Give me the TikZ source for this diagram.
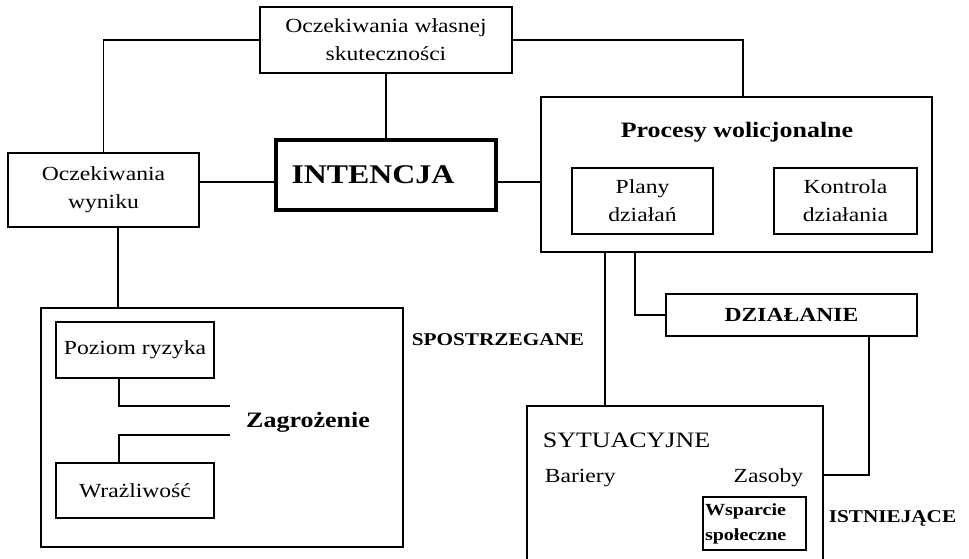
\documentclass[tikz,border=0pt]{standalone}
\usepackage{fontspec}
\setmainfont{Liberation Serif}[FakeStretch=1.18]
\newcommand\fsz[2]{\fontsize{#1}{#2}\selectfont}
\tikzset{
  every path/.style={line width=1.7pt},
  box/.style={draw, line width=1.7pt, inner sep=0pt, align=center, font=\fsz{20}{28}},
  thickbox/.style={box, line width=4pt},
  lbl/.style={inner sep=0pt, font=\fsz{20}{28}},
  boldlbl/.style={inner sep=0pt, font=\bfseries\fsz{20}{28}},
}
\begin{document}
\begin{tikzpicture}[x=1pt, y=-1pt]
\useasboundingbox (0,0) rectangle (969,559);

% boxes
\node[box, minimum width=252, minimum height=66] (ows) at (386,40) {Oczekiwania własnej\\skuteczności};
\node[box, minimum width=191, minimum height=74] (wyn) at (103.5,190) {Oczekiwania\\wyniku};
\node[thickbox, minimum width=220, minimum height=70, font=\bfseries\fsz{27}{30}] (int) at (386,175) {INTENCJA\hspace*{26pt}};
\node[box, minimum width=391, minimum height=155] (proc) at (736.5,174.5) {};
\node[boldlbl, font=\bfseries\fsz{22}{28}] (proct) at (737,132) {Procesy wolicjonalne};
\node[box, minimum width=141, minimum height=66] (plany) at (642.5,201) {Plany\\działań};
\node[box, minimum width=143, minimum height=66] (kontr) at (845.5,201) {Kontrola\\działania};
\node[box, minimum width=251, minimum height=42, font=\bfseries\fsz{20}{28}] (dzial) at (791.5,315) {DZIAŁANIE};

\node[box, minimum width=362, minimum height=239] (spost) at (222,427.5) {};
\node[box, minimum width=158, minimum height=56] (poziom) at (135,350) {Poziom ryzyka};
\node[box, minimum width=158, minimum height=55] (wraz) at (135,490.5) {Wrażliwość};
\node[boldlbl, font=\bfseries\fsz{22}{28}] (zagr) at (308,422) {Zagrożenie};
\node[boldlbl, font=\bfseries\fsz{18}{24}] (spt) at (498,340) {SPOSTRZEGANE};

% situational box (open at the bottom edge of the picture)
\coordinate (sytSW) at (527,559);
\coordinate (sytNW) at (527,406);
\coordinate (sytNE) at (823,406);
\coordinate (sytSE) at (823,559);
\draw (sytSW) -- (sytNW) -- (sytNE) -- (sytSE);
\node[lbl, anchor=west, font=\fsz{22}{28}] (syt) at (542,440) {SYTUACYJNE};
\node[lbl, anchor=west] (bar) at (544,478) {Bariery};
\node[lbl, anchor=east] (zas) at (804,478) {Zasoby};
\node[box, text width=99pt, inner sep=2pt, minimum height=53, align=left, font=\bfseries\fsz{17}{25}] (wsp) at (754.5,523.5) {Wsparcie\\społeczne};
\node[boldlbl, font=\bfseries\fsz{18}{24}] (ist) at (892.5,518) {ISTNIEJĄCE};

% connectors
\draw (ows.west) -| (wyn.north);
\draw (ows.east) -| ([xshift=6.5pt]proc.north);
\draw (ows.south) -- (int.north);
\coordinate (l1) at ([yshift=8pt]wyn.east);
\draw (l1) -- (l1 -| int.west);
\draw (l1 -| int.east) -- (l1 -| proc.west);
\coordinate (c2) at ([xshift=14.5pt]wyn.south);
\draw (c2) -- (c2 |- spost.north);

\coordinate (p1) at ([xshift=-16pt]poziom.south);
\coordinate (z1) at (230,406);
\draw (p1) |- (z1);
\coordinate (w1) at ([xshift=-16pt]wraz.north);
\coordinate (z2) at (230,435);
\draw (z2) -| (w1);

\coordinate (pr1) at ([xshift=-131.5pt]proc.south);
\draw (pr1) -- (pr1 |- sytNW);
\coordinate (pr2) at ([xshift=-101.5pt]proc.south);
\draw (pr2) |- (dzial.west);
\coordinate (d1) at ([xshift=77.5pt]dzial.south);
\coordinate (sytR) at (823,475);
\draw (d1) |- (sytR);
\end{tikzpicture}
\end{document}
